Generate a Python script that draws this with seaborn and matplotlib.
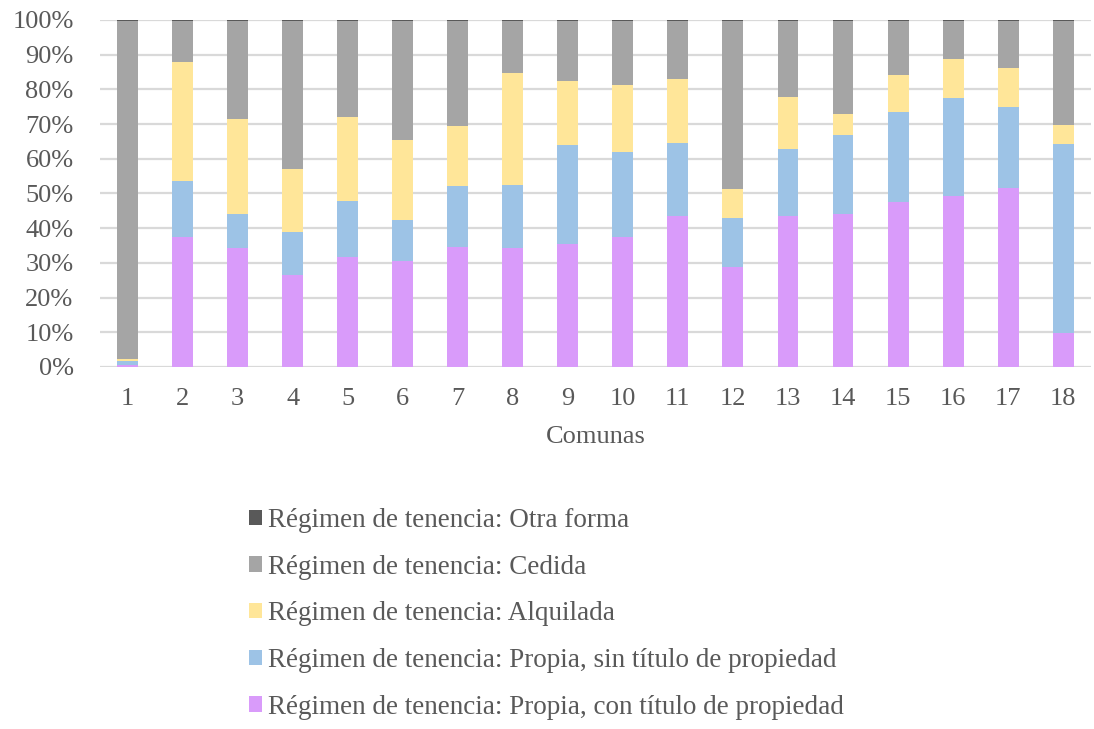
import numpy as np
import pandas as pd
import matplotlib
matplotlib.use("Agg")
import matplotlib.pyplot as plt
import seaborn as sns
from matplotlib.patches import Patch
from matplotlib.ticker import PercentFormatter

# datos (porcentajes por comuna)
comunas = [str(i) for i in range(1, 19)]
con_titulo = [0.5, 37.5, 34.2, 26.5, 31.8, 30.6, 34.7, 34.2, 35.4,
              37.5, 43.6, 28.9, 43.6, 44.0, 47.6, 49.3, 51.5, 9.7]
sin_titulo = [1.2, 16.1, 9.8, 12.3, 15.9, 11.8, 17.5, 18.2, 28.6,
              24.5, 21.0, 13.9, 19.2, 22.9, 25.9, 28.3, 23.5, 54.6]
alquilada = [0.5, 34.4, 27.4, 18.2, 24.4, 23.0, 17.3, 32.2, 18.4,
             19.3, 18.5, 8.6, 15.1, 6.0, 10.7, 11.1, 11.1, 5.5]
cedida = [97.4, 11.6, 28.2, 42.6, 27.5, 34.2, 30.1, 15.0, 17.2,
          18.3, 16.5, 48.2, 21.7, 26.7, 15.4, 10.9, 13.5, 29.8]
otra = [0.4] * 18

series_names = [
    "Régimen de tenencia: Propia, con título de propiedad",
    "Régimen de tenencia: Propia, sin título de propiedad",
    "Régimen de tenencia: Alquilada",
    "Régimen de tenencia: Cedida",
    "Régimen de tenencia: Otra forma",
]
colors = ["#D99BFA", "#9DC3E6", "#FFE699", "#A5A5A5", "#595959"]

sns.set_theme(style="white")
plt.rcParams["font.family"] = ["Liberation Serif", "DejaVu Serif"]
txt = "#595959"
fs = 19

df = pd.DataFrame({"comuna": comunas, series_names[0]: con_titulo,
                   series_names[1]: sin_titulo, series_names[2]: alquilada,
                   series_names[3]: cedida, series_names[4]: otra})
vals = df[series_names].to_numpy()
# normalizar a 100%
vals = vals / vals.sum(axis=1, keepdims=True) * 100
cum = np.cumsum(vals, axis=1)

fig, ax = plt.subplots(figsize=(10.94, 7.29), dpi=100)
fig.subplots_adjust(left=0.0914, right=0.997, top=0.9726, bottom=0.4966)

# apilado: dibujar de arriba hacia abajo
for k in range(len(series_names) - 1, -1, -1):
    sns.barplot(x=df["comuna"], y=cum[:, k], color=colors[k], width=0.38,
                saturation=1, linewidth=0, edgecolor="none", ax=ax, zorder=3)

ax.set_ylim(0, 100)
ax.set_xlim(-0.5, 17.5)
ax.yaxis.set_major_formatter(PercentFormatter(decimals=0))
ax.set_yticks(np.arange(0, 101, 10))
ax.grid(axis="y", color="#D9D9D9", linewidth=1.6, zorder=0)
ax.set_axisbelow(True)
for s in ax.spines.values():
    s.set_visible(False)
ax.tick_params(axis="both", length=0, labelsize=fs, colors=txt)
ax.tick_params(axis="y", pad=19)
ax.tick_params(axis="x", pad=15)
ax.set_ylabel("")
ax.set_xlabel("Comunas", fontsize=fs, color=txt, labelpad=12)

handles = [Patch(facecolor=colors[k], edgecolor="none") for k in range(4, -1, -1)]
labels = [series_names[k] for k in range(4, -1, -1)]
fig.legend(handles, labels, loc="center left", bbox_to_anchor=(0.205, 0.158),
           frameon=False, fontsize=19.5, labelcolor=txt, labelspacing=0.8,
           handlelength=0.5, handleheight=0.5, handletextpad=0.2)

fig.savefig("out.png", dpi=100)
